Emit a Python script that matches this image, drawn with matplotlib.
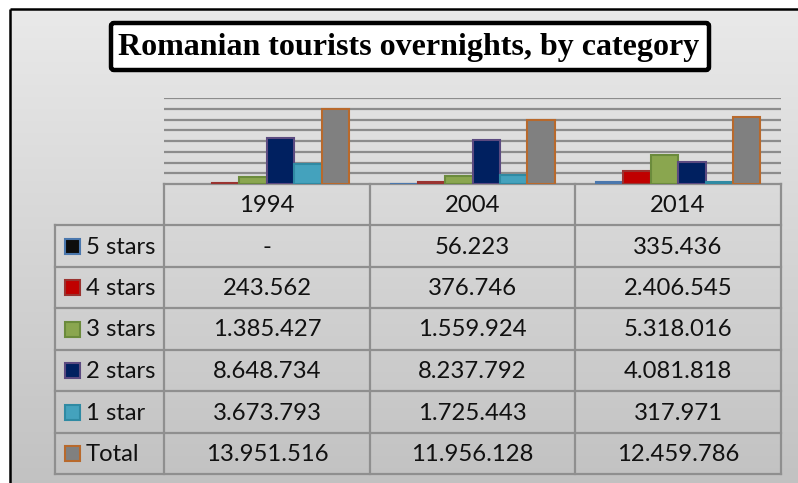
import numpy as np
import matplotlib
matplotlib.use("Agg")
import matplotlib.pyplot as plt
from matplotlib.patches import FancyBboxPatch, Rectangle

# ---------------- data ----------------
title = "Romanian tourists overnights, by category"
years = ["1994", "2004", "2014"]
categories = ["5 stars", "4 stars", "3 stars", "2 stars", "1 star", "Total"]
five_stars = [None, 56223, 335436]
four_stars = [243562, 376746, 2406545]
three_stars = [1385427, 1559924, 5318016]
two_stars = [8648734, 8237792, 4081818]
one_star = [3673793, 1725443, 317971]
total = [13951516, 11956128, 12459786]
series = [five_stars, four_stars, three_stars, two_stars, one_star, total]

fill_colors = ["#0d0d0d", "#c00000", "#8aa64f", "#002060", "#44a2bd", "#808080"]
edge_colors = ["#4a77ad", "#9a3330", "#6b8b3c", "#5b4a80", "#2f8aa3", "#b8692c"]


def fmt(v):
    if v is None:
        return "-"
    return f"{v:,}".replace(",", ".")


W, H = 798, 483
DPI = 100
fig = plt.figure(figsize=(W / DPI, H / DPI), dpi=DPI)
fig.patch.set_facecolor("white")

# background / drawing layer in pixel coordinates
bg = fig.add_axes([0, 0, 1, 1], zorder=0)
bg.set_xlim(0, W)
bg.set_ylim(H, 0)
bg.axis("off")

# gradient chart area
grad = np.linspace(0.915, 0.76, 256).reshape(-1, 1)
bg.imshow(np.dstack([grad, grad, grad]), extent=[10, W, H, 9], aspect="auto",
          interpolation="bicubic", zorder=0)
# outer frame
bg.plot([10, 10], [9, H], color="black", lw=1.8, zorder=1, solid_capstyle="butt")
bg.plot([10, W], [9, 9], color="black", lw=1.8, zorder=1, solid_capstyle="butt")

# title box
tb = FancyBboxPatch((111, 23), 598, 47, boxstyle="round,pad=0,rounding_size=3",
                    facecolor="white", edgecolor="black", lw=3.2, zorder=2)
bg.add_patch(tb)
bg.text(409, 47, title, ha="center", va="center", fontsize=23,
        fontweight="bold", family="Liberation Serif", color="black", zorder=3)

# table geometry (pixels)
col_x = [164, 370, 575, 781]
leg_x0 = 55
row_y = [184, 225, 267, 308, 350, 391, 433, 474]
line_c = "#8f8f8f"
lw_t = 1.6

bg.plot([col_x[0], col_x[-1]], [row_y[0], row_y[0]], color=line_c, lw=lw_t, zorder=2)
for y in row_y[1:]:
    bg.plot([leg_x0, col_x[-1]], [y, y], color=line_c, lw=lw_t, zorder=2)
for x in col_x:
    bg.plot([x, x], [row_y[0], row_y[-1]], color=line_c, lw=lw_t, zorder=2)
bg.plot([leg_x0, leg_x0], [row_y[1], row_y[-1]], color=line_c, lw=lw_t, zorder=2)

tfont = dict(family="Lato", fontsize=17.2, color="#111111", zorder=3)
for j, yr in enumerate(years):
    cx = (col_x[j] + col_x[j + 1]) / 2
    bg.text(cx, (row_y[0] + row_y[1]) / 2 + 1, yr, ha="center", va="center", **tfont)

for i, (cat, vals) in enumerate(zip(categories, series)):
    cy = (row_y[i + 1] + row_y[i + 2]) / 2
    bg.add_patch(Rectangle((65, cy - 7.5), 15, 15, facecolor=fill_colors[i],
                           edgecolor=edge_colors[i], lw=1.5, zorder=3))
    bg.text(86, cy + 1, cat, ha="left", va="center", **tfont)
    for j, v in enumerate(vals):
        cx = (col_x[j] + col_x[j + 1]) / 2
        bg.text(cx, cy + 1, fmt(v), ha="center", va="center", **tfont)

# bar chart axes
top_px, bot_px = 98, 184
ax = fig.add_axes([col_x[0] / W, (H - bot_px) / H, (col_x[-1] - col_x[0]) / W,
                   (bot_px - top_px) / H], zorder=1)
ax.patch.set_alpha(0)
ax.set_xlim(-0.5, len(years) - 0.5)
ax.set_ylim(0, 16000000)
ax.set_yticks(np.arange(2000000, 16000001, 2000000))
ax.yaxis.grid(True, color="#8c8c8c", lw=1.6)
ax.set_axisbelow(True)
ax.tick_params(left=False, bottom=False, labelleft=False, labelbottom=False)
for s in ax.spines.values():
    s.set_visible(False)

x = np.arange(len(years))
bw = 0.8 / 6
for i, vals in enumerate(series):
    idx = [j for j, v in enumerate(vals) if v is not None]
    ax.bar(x[idx] + (i - 2.5) * bw, [vals[j] for j in idx], width=bw,
           color=fill_colors[i], edgecolor=edge_colors[i], lw=1.5, zorder=3)

fig.savefig("out.png", dpi=DPI, facecolor=fig.get_facecolor())
